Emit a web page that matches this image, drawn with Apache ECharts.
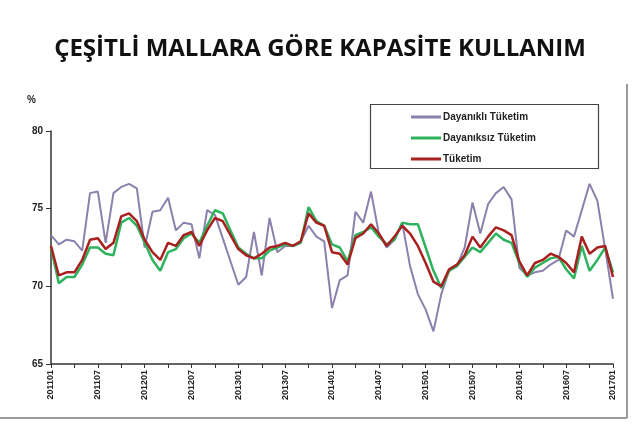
<!DOCTYPE html>
<html>
<head>
<meta charset="utf-8">
<script src="https://cdn.jsdelivr.net/npm/echarts@6/dist/echarts.min.js"></script>
<style>html,body{margin:0;padding:0;background:#fff}#c{width:640px;height:446px}</style>
</head>
<body>
<div id="c"></div>
<script>
var months = [];
for (var y = 2011; y <= 2017; y++) {
  for (var m = 1; m <= 12; m++) {
    if (y === 2017 && m > 1) break;
    months.push(String(y) + (m < 10 ? '0' + m : String(m)));
  }
}
var yTicks = [65, 70, 75, 80];
var dayanikli = [73.3,72.7,73.0,72.9,72.3,76.0,76.1,72.8,76.0,76.4,76.6,76.3,
  72.5,74.8,74.9,75.7,73.6,74.1,74.0,71.8,74.9,74.6,73.1,71.6,
  70.1,70.6,73.5,70.7,74.4,72.2,72.6,72.6,72.9,73.9,73.2,72.9,
  68.6,70.4,70.7,74.8,74.1,76.1,73.4,72.5,73.0,74.1,71.3,69.5,
  68.5,67.1,69.5,71.0,71.3,72.5,75.4,73.4,75.3,76.0,76.4,75.6,
  71.2,70.7,70.9,71.0,71.4,71.7,73.6,73.2,74.9,76.6,75.5,72.4,
  69.2];
var dayaniksiz = [72.5,70.2,70.6,70.6,71.4,72.5,72.5,72.1,72.0,74.1,74.4,73.9,
  72.8,71.7,71.0,72.2,72.4,73.1,73.4,72.8,73.9,74.9,74.7,73.6,
  72.5,72.1,71.8,71.8,72.3,72.5,72.7,72.6,72.8,75.1,74.2,73.9,
  72.7,72.5,71.6,73.3,73.5,73.8,73.2,72.7,73.0,74.1,74.0,74.0,
  72.5,71.0,69.9,71.0,71.3,71.9,72.5,72.2,72.8,73.4,73.0,72.8,
  71.5,70.6,71.2,71.5,71.8,71.9,71.1,70.5,72.6,71.0,71.7,72.5,
  70.9];
var tuketim = [72.6,70.7,70.9,70.9,71.7,73.0,73.1,72.4,72.8,74.5,74.7,74.2,
  73.0,72.2,71.7,72.8,72.6,73.3,73.5,72.6,73.6,74.4,74.2,73.3,
  72.4,72.0,71.8,72.1,72.5,72.6,72.8,72.6,72.9,74.7,74.1,73.9,
  72.2,72.1,71.4,73.1,73.4,74.0,73.4,72.6,73.2,73.9,73.4,72.6,
  71.5,70.3,70.0,71.1,71.4,72.0,73.2,72.5,73.2,73.8,73.6,73.3,
  71.6,70.7,71.5,71.7,72.1,71.9,71.5,70.9,73.2,72.1,72.5,72.6,
  70.6];

var chart = echarts.init(document.getElementById('c'), null, {renderer: 'canvas'});
var font = 'Arial, "Liberation Sans", sans-serif';
chart.setOption({
  animation: false,
  backgroundColor: '#fff',
  title: {
    text: 'ÇEŞİTLİ MALLARA GÖRE KAPASİTE KULLANIM',
    left: 'center', top: 32,
    textStyle: {fontFamily: '"Open Sans", Lato, sans-serif', fontWeight: 'bold', fontSize: 24, color: '#111'}
  },
  graphic: [
    {type: 'rect', shape: {x: 370.5, y: 104.5, width: 228, height: 64}, style: {fill: 'none', stroke: '#444', lineWidth: 1.2}},
    {type: 'text', left: 27, top: 95, style: {text: '%', font: 'bold 10px ' + font, fill: '#222'}},
    {type: 'line', shape: {x1: 627, y1: 84, x2: 627, y2: 418}, style: {stroke: '#9a9a9a', lineWidth: 2}},
    {type: 'line', shape: {x1: 0, y1: 418, x2: 627, y2: 418}, style: {stroke: '#9a9a9a', lineWidth: 2}}
  ],
  legend: {
    orient: 'vertical',
    left: 406, top: 107,
    icon: 'rect',
    itemWidth: 30, itemHeight: 3, itemGap: 11,
    textStyle: {fontFamily: font, fontWeight: 'bold', fontSize: 10, color: '#222', padding: [0,0,0,-3]},
    data: ['Dayanıklı Tüketim', 'Dayanıksız Tüketim', 'Tüketim']
  },
  grid: {left: 51, right: 27, top: 131, bottom: 82, containLabel: false},
  xAxis: {
    type: 'category', data: months, boundaryGap: false,
    axisLine: {lineStyle: {color: '#333', width: 1.5}},
    axisTick: {interval: 2, length: 4, lineStyle: {color: '#333'}},
    axisLabel: {interval: 5, rotate: 90, fontFamily: font, fontWeight: 'bold', fontSize: 9, color: '#222', margin: 6}
  },
  yAxis: {
    type: 'value', min: yTicks[0], max: yTicks[yTicks.length - 1], interval: 5,
    splitLine: {show: false},
    axisLine: {show: true, lineStyle: {color: '#333', width: 1.5}},
    axisTick: {show: true, length: 5, lineStyle: {color: '#333'}},
    axisLabel: {fontFamily: font, fontWeight: 'bold', fontSize: 10, color: '#222', margin: 8}
  },
  series: [
    {name: 'Dayanıklı Tüketim', type: 'line', data: dayanikli, symbol: 'none', z: 1,
     lineStyle: {color: '#8c80ad', width: 2}, itemStyle: {color: '#8c80ad'}},
    {name: 'Dayanıksız Tüketim', type: 'line', data: dayaniksiz, symbol: 'none', z: 2,
     lineStyle: {color: '#2db35d', width: 2.5}, itemStyle: {color: '#2db35d'}},
    {name: 'Tüketim', type: 'line', data: tuketim, symbol: 'none', z: 3,
     lineStyle: {color: '#a8201f', width: 2.5}, itemStyle: {color: '#a8201f'}}
  ]
});
</script>
</body>
</html>
